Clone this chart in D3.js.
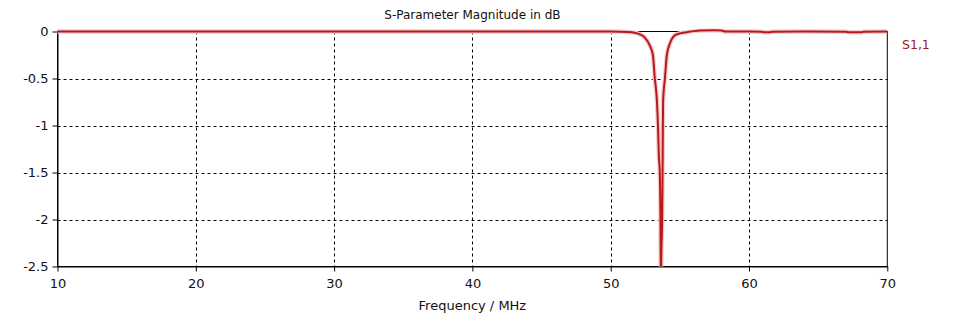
<!DOCTYPE html>
<html>
<head>
<meta charset="utf-8">
<script src="https://cdn.jsdelivr.net/npm/d3@7"></script>
<style>
  html, body { margin: 0; padding: 0; background: #fff; }
  svg { display: block; }
  text { font-family: "DejaVu Sans", Verdana, sans-serif; fill: #111; }
</style>
</head>
<body>
<svg id="chart" width="957" height="314"></svg>
<script>
// ---- data ----
const chartTitle = "S-Parameter Magnitude in dB";
const xLabel = "Frequency / MHz";
const seriesName = "S1,1";
const xTicks = [10, 20, 30, 40, 50, 60, 70];
const yTicks = [0, -0.5, -1, -1.5, -2, -2.5];
const freq = [10, 15, 20, 25, 30, 35, 40, 45, 48, 50, 51.2, 51.8, 52.11, 52.47, 52.83, 53.05, 53.19, 53.34, 53.43, 53.48, 53.55, 53.6, 53.63,
              53.67, 53.72, 53.75, 53.77, 53.79, 53.92, 54.06, 54.3, 54.64, 55.0, 55.5, 56.0, 56.5, 57.5, 58.0, 58.3, 60.0, 60.9, 61.1, 61.5, 61.7,
              64.0, 67.0, 67.2, 68.1, 68.3, 70.0];
const s11 = [0, 0, 0, 0, 0, 0, 0, 0, 0, -0.001, -0.005, -0.015, -0.03, -0.065, -0.15, -0.25, -0.5, -0.73, -1.05, -1.31, -1.5, -2.0, -2.75,
             -2.3, -2.04, -1.5, -1.05, -0.73, -0.5, -0.25, -0.12, -0.04, -0.02, -0.008, 0.004, 0.01, 0.012, 0.01, 0, 0, -0.002, -0.008, -0.008, -0.002,
             0, -0.002, -0.008, -0.008, -0.002, 0];

// ---- layout ----
const svg = d3.select("#chart");
const L = 57.5, R = 887.3, T = 31.5, B = 266.5;
const x = d3.scaleLinear().domain([10, 70]).range([L, R]);
const y = d3.scaleLinear().domain([-2.5, 0]).range([B, T]);

// grid
const grid = svg.append("g");
grid.selectAll("line.v").data(xTicks.slice(1, -1)).enter().append("line")
  .attr("x1", d => Math.round(x(d)) + 0.5).attr("x2", d => Math.round(x(d)) + 0.5)
  .attr("y1", T).attr("y2", B)
  .attr("stroke", "#000").attr("stroke-width", 1).attr("stroke-dasharray", "3,3");
grid.selectAll("line.h").data(yTicks.slice(1, -1)).enter().append("line")
  .attr("y1", d => Math.round(y(d)) + 0.5).attr("y2", d => Math.round(y(d)) + 0.5)
  .attr("x1", L).attr("x2", R)
  .attr("stroke", "#000").attr("stroke-width", 1).attr("stroke-dasharray", "3,3");

// frame
svg.append("rect").attr("x", L).attr("y", T).attr("width", R - L).attr("height", B - T)
  .attr("fill", "none").attr("stroke", "#000").attr("stroke-width", 1);

// axes
const xAxis = svg.append("g").attr("transform", `translate(0,${B})`)
  .call(d3.axisBottom(x).tickValues(xTicks).tickSize(5).tickSizeOuter(0).tickPadding(7).tickFormat(d3.format("d")));
const yAxis = svg.append("g").attr("transform", `translate(${L},0)`)
  .call(d3.axisLeft(y).tickValues(yTicks).tickSize(5).tickSizeOuter(0).tickPadding(4).tickFormat(d => d === 0 ? "0" : String(d)));
[xAxis, yAxis].forEach(a => {
  a.select(".domain").attr("stroke", "#000");
  a.selectAll(".tick line").attr("stroke", "#000");
  a.selectAll(".tick text").attr("font-size", 13).attr("font-family", "DejaVu Sans, Verdana, sans-serif").attr("fill", "#111");
});

// curve
svg.append("clipPath").attr("id", "clip").append("rect")
  .attr("x", L - 2).attr("y", T - 3).attr("width", R - L + 2).attr("height", B - T + 3);
const line = d3.line().x((d, i) => x(freq[i])).y(d => y(d)).curve(d3.curveMonotoneX);
const cg = svg.append("g").attr("clip-path", "url(#clip)");
cg.append("path").datum(s11).attr("d", line).attr("fill", "none")
  .attr("stroke", "#f6c9c9").attr("stroke-width", 4.5).attr("stroke-linejoin", "round");
cg.append("path").datum(s11).attr("d", line).attr("fill", "none")
  .attr("stroke", "#b8191c").attr("stroke-width", 2).attr("stroke-linejoin", "round");

// title & labels
svg.append("text").attr("x", (L + R) / 2).attr("y", 19).attr("text-anchor", "middle")
  .attr("font-size", 12).text(chartTitle);
svg.append("text").attr("x", (L + R) / 2).attr("y", 310).attr("text-anchor", "middle")
  .attr("font-size", 13).text(xLabel);
svg.append("text").attr("x", 902).attr("y", 49).attr("font-size", 12.5)
  .style("fill", "#a0181c").text(seriesName);
</script>
</body>
</html>
